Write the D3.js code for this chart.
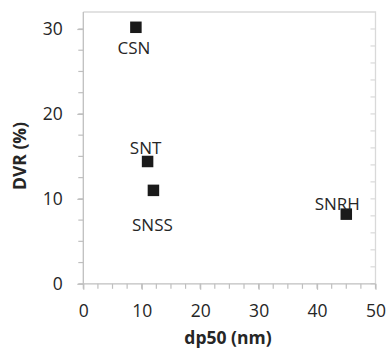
<!DOCTYPE html>
<html>
<head>
<meta charset="utf-8">
<script src="https://cdn.jsdelivr.net/npm/d3@7"></script>
<style>
  html, body { margin: 0; padding: 0; background: #fff; }
  svg { display: block; }
  text { font-family: "Open Sans", sans-serif; fill: #262626; }
</style>
</head>
<body>
<svg id="chart" width="388" height="349"></svg>
<script>
// Sample names and their measured values
const samples = ["CSN", "SNT", "SNSS", "SNRH"];
const dp50 = [9, 11, 12, 45];          // nm
const dvr = [30.2, 14.4, 11.0, 8.2];    // %
// Label offsets relative to each marker (dx, dy in px, anchor point of text)
const labelDx = [-2, -2, -1, -9];
const labelDy = [27, -7, 41, -4];

const xTicks = [0, 10, 20, 30, 40, 50];
const yTicks = [0, 10, 20, 30];

const svg = d3.select("#chart");
const plotLeft = 83.3, plotRight = 375.5, plotTop = 12, plotBottom = 283.8;

const x = d3.scaleLinear().domain([0, 50]).range([plotLeft, plotRight]);
const y = d3.scaleLinear().domain([0, 32]).range([plotBottom, plotTop]);

const axisColor = "#bfbfbf";
const borderColor = "#d9d9d9";

// Plot area frame (top and right)
svg.append("path")
  .attr("d", `M${plotLeft},${plotTop}H${plotRight}V${plotBottom}`)
  .attr("fill", "none").attr("stroke", borderColor).attr("stroke-width", 1.3);

// Right-side inner ticks
svg.append("g").selectAll("line")
  .data(d3.range(0, 32, 2))
  .join("line")
  .attr("x1", plotRight - 5).attr("x2", plotRight)
  .attr("y1", d => y(d)).attr("y2", d => y(d))
  .attr("stroke", borderColor).attr("stroke-width", 1.2);

// Minor ticks
svg.append("g").selectAll("line")
  .data(d3.range(0, 30.01, 2.5))
  .join("line")
  .attr("x1", plotLeft - 5).attr("x2", plotLeft)
  .attr("y1", d => y(d)).attr("y2", d => y(d))
  .attr("stroke", axisColor).attr("stroke-width", 1.2);
svg.append("g").selectAll("line")
  .data(d3.range(0, 50.01, 2.5))
  .join("line")
  .attr("x1", d => x(d)).attr("x2", d => x(d))
  .attr("y1", plotBottom).attr("y2", plotBottom + 5)
  .attr("stroke", axisColor).attr("stroke-width", 1.2);

// Y axis
const yAxis = svg.append("g")
  .attr("transform", `translate(${plotLeft},0)`)
  .call(d3.axisLeft(y).tickValues(yTicks).tickSize(6).tickPadding(14.5));
// X axis
const xAxis = svg.append("g")
  .attr("transform", `translate(0,${plotBottom})`)
  .call(d3.axisBottom(x).tickValues(xTicks).tickSize(6).tickPadding(15));

[xAxis, yAxis].forEach(g => {
  g.select(".domain").attr("stroke", axisColor).attr("stroke-width", 1.3);
  g.selectAll(".tick line").attr("stroke", axisColor).attr("stroke-width", 1.2);
  g.selectAll(".tick text")
    .attr("fill", "#262626")
    .style("font-family", "'Open Sans', sans-serif")
    .style("font-size", "17.5px");
});
yAxis.select(".domain").attr("d", `M0,${plotTop}V${plotBottom}`);
xAxis.select(".domain").attr("d", `M${plotLeft},0H${plotRight}`);

// Markers
const pts = samples.map((s, i) => ({ name: s, x: dp50[i], y: dvr[i], dx: labelDx[i], dy: labelDy[i] }));
const size = 11.5;
svg.append("g").selectAll("rect")
  .data(pts)
  .join("rect")
  .attr("x", d => x(d.x) - size / 2)
  .attr("y", d => y(d.y) - size / 2)
  .attr("width", size).attr("height", size)
  .attr("fill", "#1a1a1a");

// Data labels
svg.append("g").selectAll("text")
  .data(pts)
  .join("text")
  .attr("x", d => x(d.x) + d.dx)
  .attr("y", d => y(d.y) + d.dy)
  .attr("text-anchor", "middle")
  .style("font-size", "17px")
  .text(d => d.name);

// Axis titles
svg.append("text")
  .attr("x", 228).attr("y", 344)
  .attr("text-anchor", "middle")
  .style("font-size", "17.5px").style("font-weight", "bold")
  .text("dp50 (nm)");
svg.append("text")
  .attr("transform", "translate(26,156) rotate(-90)")
  .attr("text-anchor", "middle")
  .style("font-size", "17.5px").style("font-weight", "bold")
  .text("DVR (%)");
</script>
</body>
</html>
